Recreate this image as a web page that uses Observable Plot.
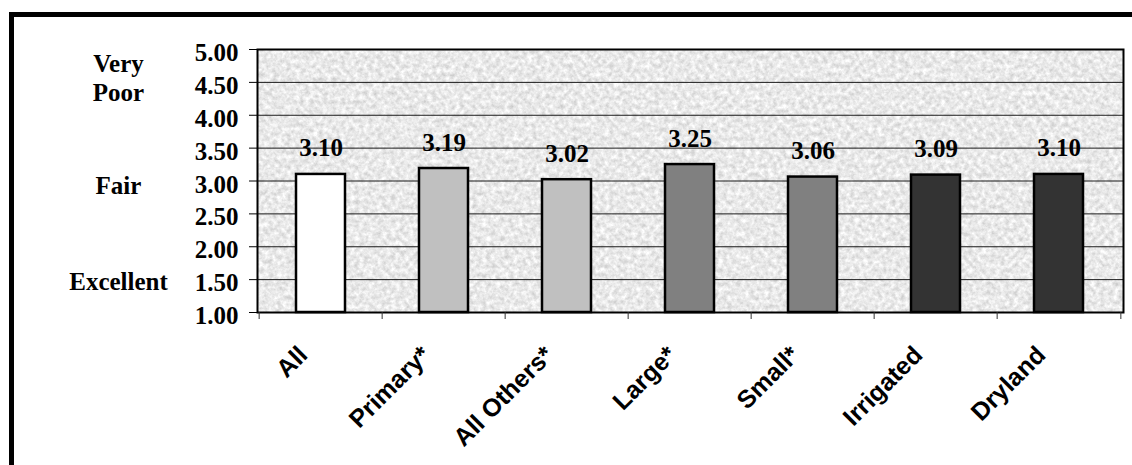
<!DOCTYPE html>
<html><head><meta charset="utf-8">
<script src="https://cdn.jsdelivr.net/npm/d3@7"></script>
<script src="https://cdn.jsdelivr.net/npm/@observablehq/plot@0.6"></script>
<style>
html,body{margin:0;padding:0;background:#fff;overflow:hidden;width:1132px;height:465px}
#chart{position:absolute;left:0;top:0}
#box{position:absolute;left:9px;top:12px;width:1300px;height:700px;border:5px solid #000;box-sizing:border-box;pointer-events:none}
</style></head><body>
<div id="chart"></div><div id="box"></div>
<script>
const categories = ["All","Primary*","All Others*","Large*","Small*","Irrigated","Dryland"];
const values = [3.10,3.19,3.02,3.25,3.06,3.09,3.10];
const fills = ["#ffffff","#c0c0c0","#c0c0c0","#808080","#808080","#333333","#333333"];
const yTicks = [1,1.5,2,2.5,3,3.5,4,4.5,5];
const scaleLabels = ["Very\nPoor","Fair","Excellent"];
const scaleLabelValues = [4.63,3.0,1.53];

const data = categories.map((c,i)=>({category:c, value:values[i], fill:fills[i]}));
const scaleData = scaleLabels.map((t,i)=>({text:t, y:scaleLabelValues[i]}));

const W=1132,H=465,ML=257,MR=9,MT=49,MB=153;
const step=(W-ML-MR)/categories.length;
const serif = "'Liberation Serif','Times New Roman',serif";
const sans = "'Liberation Sans',Arial,sans-serif";

const plot = Plot.plot({
  width:W, height:H, marginLeft:ML, marginRight:MR, marginTop:MT, marginBottom:MB,
  style:{color:"#000", background:"transparent", overflow:"visible"},
  x:{domain:categories, paddingInner:0.6, paddingOuter:0.3, axis:null},
  y:{domain:[1,5], axis:null},
  marks:[
    Plot.frame({fill:"#e6e6e6"}),
    Plot.ruleY(yTicks.slice(1,-1), {stroke:"#1a1a1a", strokeWidth:1}),
    Plot.barY(data, {x:"category", y1:1, y2:"value", fill:"fill", stroke:"#000", strokeWidth:2.5}),
    Plot.text(data, {x:"category", y:"value", text:d=>d.value.toFixed(2), dy:-26, fontSize:25, fontWeight:"bold", fontFamily:serif, fill:"#000"}),
    Plot.frame({stroke:"#000", strokeWidth:2}),
    Plot.axisY(yTicks, {tickSize:8, tickFormat:()=>"", stroke:"#000", label:null}),
    Plot.axisY(yTicks, {tickSize:0, tickPadding:19, tickFormat:d=>d.toFixed(2), dy:3.5, fontSize:25, fontWeight:"bold", fontFamily:serif, fill:"#000", label:null}),
    Plot.text(scaleData, {y:"y", text:"text", frameAnchor:"left", dx:-139, dy:3.5, textAnchor:"middle", lineHeight:1.15, fontSize:25, fontWeight:"bold", fontFamily:serif, fill:"#000"}),
    Plot.axisX(categories, {tickSize:7, tickFormat:()=>"", dx:-step/2, stroke:"#333", label:null}),
    Plot.axisX([categories[categories.length-1]], {tickSize:7, tickFormat:()=>"", dx:step/2, stroke:"#333", label:null}),
    Plot.text(categories, {x:d=>d, text:d=>d, frameAnchor:"bottom", rotate:-45, textAnchor:"end", dx:-12, dy:44, fontSize:25, fontWeight:"bold", fontFamily:sans, fill:"#000"})
  ]
});

// granite-like texture for the plot background
const ns="http://www.w3.org/2000/svg";
const defs=document.createElementNS(ns,"defs");
defs.innerHTML=`<filter id="granite" x="0" y="0" width="1" height="1" filterUnits="objectBoundingBox" color-interpolation-filters="sRGB">
  <feTurbulence type="fractalNoise" baseFrequency="0.22" numOctaves="4" seed="7" result="n"/>
  <feColorMatrix in="n" type="matrix" values="0.3 0 0 0 0.765  0.3 0 0 0 0.765  0.3 0 0 0 0.765  0 0 0 0 1"/>
</filter>`;
plot.insertBefore(defs, plot.firstChild);
const frames = plot.querySelectorAll('[aria-label="frame"]');
if (frames.length) {
  const f = frames[0];
  const r = f.tagName.toLowerCase()==="rect" ? f : f.querySelector("rect");
  if (r) r.setAttribute("filter","url(#granite)");
}
document.getElementById("chart").appendChild(plot);
</script>
</body></html>
